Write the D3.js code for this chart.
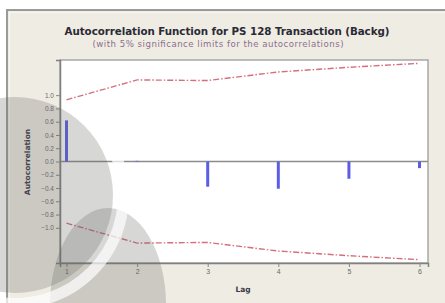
<!DOCTYPE html>
<html>
<head>
<meta charset="utf-8">
<script src="https://cdn.jsdelivr.net/npm/d3@7"></script>
<style>
  html, body { margin: 0; padding: 0; background: #ffffff; }
  svg { display: block; }
</style>
</head>
<body>
<div id="chart"></div>
<script>
// ---- data ----
const lags = [1, 2, 3, 4, 5, 6];
const acfValues = [0.62, 0.01, -0.38, -0.41, -0.26, -0.10];
const upperLimits = [0.93, 1.23, 1.22, 1.35, 1.42, 1.48];
const lowerLimits = [-0.93, -1.23, -1.22, -1.35, -1.42, -1.48];
const yTicks = [1.0, 0.8, 0.6, 0.4, 0.2, 0.0, -0.2, -0.4, -0.6, -0.8, -1.0];
const xTicks = [1, 2, 3, 4, 5, 6];
const titleText = "Autocorrelation Function for PS 128 Transaction (Backg)";
const subtitleText = "(with 5% significance limits for the autocorrelations)";
const xLabel = "Lag";
const yLabel = "Autocorrelation";

// ---- layout ----
const W = 445, H = 303;
const plot = { left: 60, right: 428, top: 60, bottom: 263 };

const svg = d3.select("#chart").append("svg").attr("width", W).attr("height", H);

// outer panel
svg.append("rect").attr("x", 6).attr("y", 9).attr("width", W - 6).attr("height", H - 9).attr("fill", "#efece3");
svg.append("line").attr("x1", 6).attr("x2", W).attr("y1", 10).attr("y2", 10).attr("stroke", "#9a9a96").attr("stroke-width", 2);
svg.append("line").attr("x1", 7).attr("x2", 7).attr("y1", 9).attr("y2", H).attr("stroke", "#9a9a96").attr("stroke-width", 2);
svg.append("line").attr("x1", 9.5).attr("x2", 9.5).attr("y1", 12).attr("y2", H).attr("stroke", "#f8f7f3").attr("stroke-width", 1);
svg.append("line").attr("x1", 9).attr("x2", W).attr("y1", 12.5).attr("y2", 12.5).attr("stroke", "#f8f7f3").attr("stroke-width", 1);

// scales
const x = d3.scaleLinear().domain([0.908, 6.12]).range([plot.left, plot.right]);
const y = d3.scaleLinear().domain([-1.53, 1.53]).range([plot.bottom, plot.top]);

// plot area
svg.append("rect").attr("x", plot.left).attr("y", plot.top)
  .attr("width", plot.right - plot.left).attr("height", plot.bottom - plot.top)
  .attr("fill", "#ffffff").attr("stroke", "#a8a8a8").attr("stroke-width", 1.5);

// zero reference line
svg.append("line").attr("x1", plot.left).attr("x2", plot.right)
  .attr("y1", y(0)).attr("y2", y(0)).attr("stroke", "#8c8c8c").attr("stroke-width", 1.5);

// axes
const yAxis = d3.axisLeft(y).tickValues(yTicks).tickFormat(d3.format(".1f")).tickSize(4).tickPadding(2);
const gy = svg.append("g").attr("transform", `translate(${plot.left},0)`).call(yAxis);
gy.select(".domain").attr("stroke", "#808080").attr("stroke-width", 1.5);
gy.selectAll(".tick line").attr("stroke", "#888");
gy.selectAll(".tick text").attr("fill", "#6a6a70").style("font-family", "Liberation Sans, Arial, sans-serif").style("font-size", "6.5px");

const xAxis = d3.axisBottom(x).tickValues(xTicks).tickFormat(d3.format("d")).tickSize(4).tickPadding(2);
const gx = svg.append("g").attr("transform", `translate(0,${plot.bottom})`).call(xAxis);
gx.select(".domain").attr("stroke", "#808080").attr("stroke-width", 1.5);
gx.selectAll(".tick line").attr("stroke", "#888");
gx.selectAll(".tick text").attr("fill", "#6a6a70").style("font-family", "Liberation Sans, Arial, sans-serif").style("font-size", "7px");

// significance limits
const line = d3.line().x((d, i) => x(lags[i])).y(d => y(d));
[upperLimits, lowerLimits].forEach(arr => {
  svg.append("path").datum(arr).attr("d", line)
    .attr("fill", "none").attr("stroke", "#cf5566").attr("stroke-width", 1.4)
    .attr("stroke-dasharray", "6,2,1.5,2").attr("opacity", 0.85);
});

// ACF bars
svg.selectAll("line.acf").data(acfValues).enter().append("line").attr("class", "acf")
  .attr("x1", (d, i) => x(lags[i])).attr("x2", (d, i) => x(lags[i]))
  .attr("y1", y(0)).attr("y2", d => y(d))
  .attr("stroke", "#5a5ee6").attr("stroke-width", 3);

// titles
svg.append("text").attr("x", 227).attr("y", 35).attr("text-anchor", "middle")
  .style("font-family", "DejaVu Sans, sans-serif").style("font-weight", "bold").style("font-size", "10.3px")
  .attr("textLength", 325).attr("lengthAdjust", "spacing")
  .attr("fill", "#2a2a36").text(titleText);
svg.append("text").attr("x", 218).attr("y", 47).attr("text-anchor", "middle")
  .style("font-family", "DejaVu Sans, sans-serif").style("font-size", "8.6px")
  .attr("textLength", 251).attr("lengthAdjust", "spacing")
  .attr("fill", "#8c6f8c").text(subtitleText);
svg.append("text").attr("x", 243).attr("y", 292).attr("text-anchor", "middle")
  .style("font-family", "DejaVu Sans, sans-serif").style("font-weight", "bold").style("font-size", "7.5px")
  .attr("fill", "#3a3a48").text(xLabel);
svg.append("text").attr("transform", "translate(30,162) rotate(-90)").attr("text-anchor", "middle")
  .style("font-family", "DejaVu Sans, sans-serif").style("font-weight", "bold").style("font-size", "7.5px")
  .attr("fill", "#3a3a48").text(yLabel);

// watermark overlay (decorative)
const wm = svg.append("g").style("pointer-events", "none");
wm.append("ellipse").attr("cx", 108).attr("cy", 305).attr("rx", 58).attr("ry", 97).attr("fill", "rgba(100,100,95,0.26)");
wm.append("path")
  .attr("transform", "translate(15,195)")
  .attr("d", d3.arc().innerRadius(103).outerRadius(114).startAngle(0.3 * Math.PI).endAngle(1.5 * Math.PI)())
  .attr("fill", "rgba(255,255,255,0.7)");
wm.append("circle").attr("cx", 15).attr("cy", 195).attr("r", 98).attr("fill", "rgba(100,100,95,0.26)");
</script>
</body>
</html>
